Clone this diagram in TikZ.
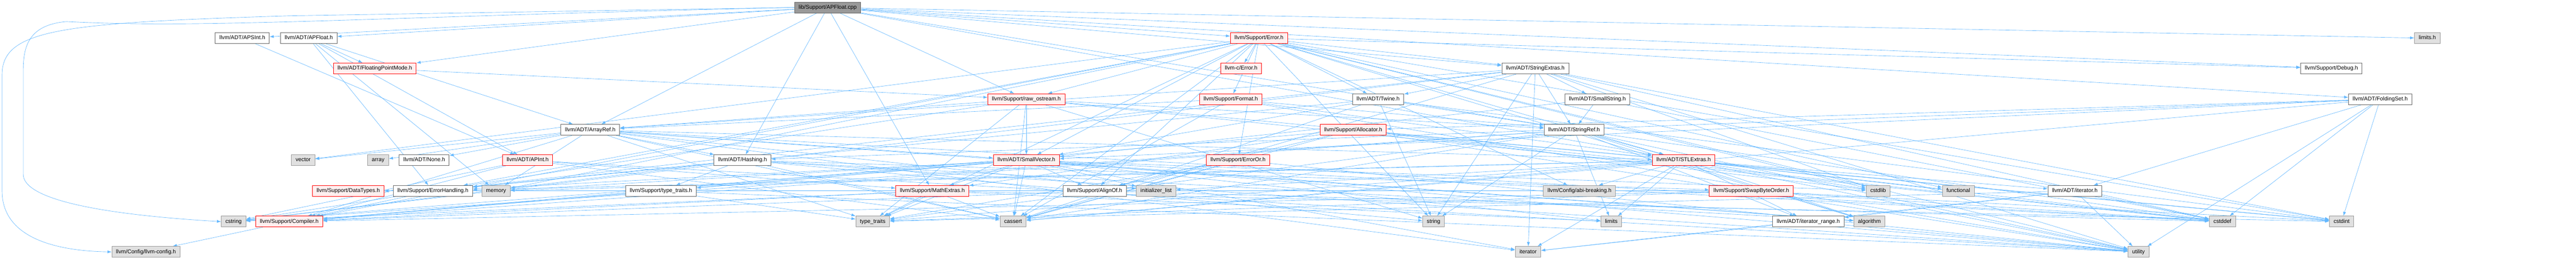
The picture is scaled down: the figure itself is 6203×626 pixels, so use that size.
\documentclass[tikz,border=0pt]{standalone}
\usepackage{fontspec}
\setmainfont{Liberation Sans}
\usetikzlibrary{arrows.meta,backgrounds}
\definecolor{edgeblue}{HTML}{63B8FF}
\definecolor{redfill}{HTML}{FFF0F0}
\definecolor{sysfill}{HTML}{E0E0E0}
\tikzset{
  file/.style={draw=black!60, fill=white, line width=1.2pt, minimum height=26pt,
    inner xsep=10pt, inner ysep=0pt, text height=9.6pt, text depth=2.8pt,
    font=\fontsize{13.3}{15}\selectfont},
  redfile/.style={file, draw=red, fill=redfill},
  sysfile/.style={file, draw=black!40, fill=sysfill},
  rootfile/.style={file, draw=black!60, fill=black!40},
  dep/.style={draw=edgeblue, line width=0.8pt, -{Latex[length=10pt,width=7pt]}},
}

\begin{document}
\begin{tikzpicture}[x=1pt,y=-1pt]
			%%%%% START %%%%%
			\useasboundingbox (0,0) rectangle (6203,626);

			\node[rootfile] (cpp) at (1993,18) {lib/Support/APFloat.cpp};

			\node[file] (apsint) at (583.5,92) {llvm/ADT/APSInt.h};
			\node[file] (apfloat) at (743.5,92) {llvm/ADT/APFloat.h};
			\node[redfile] (error) at (3031.5,92) {llvm/Support/Error.h};
			\node[sysfile] (limitsh) at (5845,92) {limits.h};

			\node[redfile] (fpmode) at (902.5,165) {llvm/ADT/FloatingPointMode.h};
			\node[redfile] (cerror) at (2988.5,165) {llvm-c/Error.h};
			\node[file] (strext) at (3697,165) {llvm/ADT/StringExtras.h};
			\node[file] (debug) at (5614,165) {llvm/Support/Debug.h};

			\node[redfile] (rawos) at (2471.5,239) {llvm/Support/raw\_ostream.h};
			\node[redfile] (format) at (2963.5,239) {llvm/Support/Format.h};
			\node[file] (twine) at (3318.5,239) {llvm/ADT/Twine.h};
			\node[file] (smallstr) at (3846.5,239) {llvm/ADT/SmallString.h};
			\node[file] (foldset) at (5731.5,239) {llvm/ADT/FoldingSet.h};

			\node[file] (arrayref) at (1421.5,313) {llvm/ADT/ArrayRef.h};
			\node[redfile] (alloc) at (3258.5,313) {llvm/Support/Allocator.h};
			\node[file] (strref) at (3790.5,313) {llvm/ADT/StringRef.h};

			\node[sysfile] (vector) at (730,386) {vector};
			\node[sysfile] (array) at (910.5,386) {array};
			\node[file] (none) at (1021.5,386) {llvm/ADT/None.h};
			\node[redfile] (apint) at (1270.5,386) {llvm/ADT/APInt.h};
			\node[file] (hashing) at (1788,386) {llvm/ADT/Hashing.h};
			\node[redfile] (smallvec) at (2471.5,386) {llvm/ADT/SmallVector.h};
			\node[redfile] (erroror) at (2981,386) {llvm/Support/ErrorOr.h};
			\node[redfile] (stlext) at (4054,386) {llvm/ADT/STLExtras.h};

			\node[redfile] (datatypes) at (838.5,460) {llvm/Support/DataTypes.h};
			\node[file] (errhand) at (1042.5,460) {llvm/Support/ErrorHandling.h};
			\node[sysfile] (memory) at (1194.5,460) {memory};
			\node[file] (typetr) at (1591.5,460) {llvm/Support/type\_traits.h};
			\node[redfile] (mathext) at (2245,460) {llvm/Support/MathExtras.h};
			\node[file] (alignof) at (2636,460) {llvm/Support/AlignOf.h};
			\node[sysfile] (initlist) at (2784,460) {initializer\_list};
			\node[sysfile] (abibrk) at (3803.5,460) {llvm/Config/abi-breaking.h};
			\node[redfile] (swapbo) at (4217,460) {llvm/Support/SwapByteOrder.h};
			\node[sysfile] (cstdlib) at (4522.5,460) {cstdlib};
			\node[sysfile] (functional) at (4715.5,460) {functional};
			\node[file] (iter) at (4996,460) {llvm/ADT/iterator.h};

			\node[sysfile] (cstring) at (562.5,534) {cstring};
			\node[redfile] (compiler) at (696.5,534) {llvm/Support/Compiler.h};
			\node[sysfile] (stdtypetr) at (2101.5,534) {type\_traits};
			\node[sysfile] (cassert) at (2439.5,534) {cassert};
			\node[sysfile] (string) at (3452,534) {string};
			\node[sysfile] (limits) at (3880,534) {limits};
			\node[file] (iterrange) at (4354.5,534) {llvm/ADT/iterator\_range.h};
			\node[sysfile] (algorithm) at (4501.5,534) {algorithm};
			\node[sysfile] (cstddef) at (5351.5,534) {cstddef};
			\node[sysfile] (cstdint) at (5638.5,534) {cstdint};

			\node[sysfile] (llvmcfg) at (351.5,607) {llvm/Config/llvm-config.h};
			\node[sysfile] (iterator) at (3679.5,607) {iterator};
			\node[sysfile] (utility) at (5149.5,607) {utility};

			\begin{scope}[on background layer]
			\fill[white] (0,0) rectangle (6203,626);

			\draw[dep] (cpp) -- (apfloat); \draw[dep] (cpp) -- (apsint); \draw[dep] (cpp) -- (arrayref); \draw[dep] (cpp) -- (fpmode);
			\draw[dep] (cpp) -- (foldset); \draw[dep] (cpp) -- (hashing); \draw[dep] (cpp) -- (stlext); \draw[dep] (cpp) -- (strext);
			\draw[dep] (cpp) -- (strref); \draw[dep] (cpp) -- (debug); \draw[dep] (cpp) -- (error); \draw[dep] (cpp) -- (mathext);
			\draw[dep] (cpp) -- (rawos); \draw[dep] (cpp) -- (limitsh);
			\draw[dep] (cpp.west) -- (700,38) .. controls (150,55) and (5,70) .. (5,180) -- (5,460) .. controls (5,580) and (150,605) .. (llvmcfg.west);
			\draw[dep] (cpp.west) .. controls (900,40) and (500,70) .. (160,52) .. controls (70,60) and (56,110) .. (56,170) -- (56,420) .. controls (56,500) and (380,525) .. (cstring.west);

			\draw[dep] (apsint) -- (apint);
			\draw[dep] (apfloat) -- (apint); \draw[dep] (apfloat) -- (arrayref); \draw[dep] (apfloat) -- (fpmode); \draw[dep] (apfloat) -- (errhand); \draw[dep] (apfloat) -- (memory);
			\draw[dep] (fpmode) -- (rawos);
			\draw[dep] (apint) -- (compiler); \draw[dep] (apint) -- (mathext); \draw[dep] (apint) -- (cassert); \draw[dep] (apint) -- (cstring); \draw[dep] (apint) -- (utility);

			\draw[dep] (arrayref) -- (hashing); \draw[dep] (arrayref) -- (none); \draw[dep] (arrayref) -- (smallvec); \draw[dep] (arrayref) -- (stlext);
			\draw[dep] (arrayref) -- (compiler); \draw[dep] (arrayref) -- (algorithm); \draw[dep] (arrayref) -- (array); \draw[dep] (arrayref) -- (cassert);
			\draw[dep] (arrayref) -- (cstddef); \draw[dep] (arrayref) -- (initlist); \draw[dep] (arrayref) -- (iterator); \draw[dep] (arrayref) -- (memory);
			\draw[dep] (arrayref) -- (stdtypetr); \draw[dep] (arrayref) -- (vector);

			\draw[dep] (hashing) -- (errhand); \draw[dep] (hashing) -- (swapbo); \draw[dep] (hashing) -- (typetr); \draw[dep] (hashing) -- (algorithm);
			\draw[dep] (hashing) -- (cassert); \draw[dep] (hashing) -- (cstring); \draw[dep] (hashing) -- (string); \draw[dep] (hashing) -- (utility);
			\draw[dep] (errhand) -- (compiler);
			\draw[dep] (typetr) -- (compiler); \draw[dep] (typetr) -- (stdtypetr); \draw[dep] (typetr) -- (utility);
			\draw[dep] (mathext) -- (compiler); \draw[dep] (mathext) -- (cassert); \draw[dep] (mathext) -- (cstdint); \draw[dep] (mathext) -- (cstring);
			\draw[dep] (mathext) -- (limits); \draw[dep] (mathext) -- (stdtypetr); \draw[dep] (mathext) -- (datatypes);

			\draw[dep] (smallvec) -- (alignof); \draw[dep] (smallvec) -- (mathext); \draw[dep] (smallvec) -- (compiler); \draw[dep] (smallvec) -- (typetr);
			\draw[dep] (smallvec) -- (errhand); \draw[dep] (smallvec) -- (algorithm); \draw[dep] (smallvec) -- (cassert); \draw[dep] (smallvec) -- (cstddef);
			\draw[dep] (smallvec) -- (cstdlib); \draw[dep] (smallvec) -- (cstring); \draw[dep] (smallvec) -- (initlist); \draw[dep] (smallvec) -- (iterator);
			\draw[dep] (smallvec) -- (limits); \draw[dep] (smallvec) -- (memory); \draw[dep] (smallvec) -- (stdtypetr); \draw[dep] (smallvec) -- (utility);
			\draw[dep] (alignof) -- (compiler); \draw[dep] (alignof) -- (cstddef);

			\draw[dep] (rawos) -- (arrayref); \draw[dep] (rawos) -- (strref); \draw[dep] (rawos) -- (smallvec); \draw[dep] (rawos) -- (cassert);
			\draw[dep] (rawos) -- (cstddef); \draw[dep] (rawos) -- (cstdint); \draw[dep] (rawos) -- (cstring); \draw[dep] (rawos) -- (string);
			\draw[dep] (rawos) -- (stdtypetr);

			\draw[dep] (error) -- (cerror); \draw[dep] (error) -- (strext); \draw[dep] (error) -- (stlext); \draw[dep] (error) -- (smallvec);
			\draw[dep] (error) -- (twine); \draw[dep] (error) -- (abibrk); \draw[dep] (error) -- (alignof); \draw[dep] (error) -- (compiler);
			\draw[dep] (error) -- (debug); \draw[dep] (error) -- (errhand); \draw[dep] (error) -- (erroror); \draw[dep] (error) -- (format);
			\draw[dep] (error) -- (rawos); \draw[dep] (error) -- (algorithm); \draw[dep] (error) -- (cassert); \draw[dep] (error) -- (cstdint);
			\draw[dep] (error) -- (cstdlib); \draw[dep] (error) -- (functional); \draw[dep] (error) -- (memory); \draw[dep] (error) -- (string);
			\draw[dep] (error) -- (stdtypetr); \draw[dep] (error) -- (utility); \draw[dep] (error) -- (vector);

			\draw[dep] (format) -- (arrayref); \draw[dep] (format) -- (stlext); \draw[dep] (format) -- (strref); \draw[dep] (format) -- (cassert); \draw[dep] (format) -- (utility);
			\draw[dep] (erroror) -- (alignof); \draw[dep] (erroror) -- (cassert); \draw[dep] (erroror) -- (stdtypetr); \draw[dep] (erroror) -- (utility);

			\draw[dep] (strext) -- (arrayref); \draw[dep] (strext) -- (smallstr); \draw[dep] (strext) -- (strref); \draw[dep] (strext) -- (twine);
			\draw[dep] (strext) -- (errhand); \draw[dep] (strext) -- (cassert); \draw[dep] (strext) -- (cstddef); \draw[dep] (strext) -- (cstdint);
			\draw[dep] (strext) -- (cstdlib); \draw[dep] (strext) -- (cstring); \draw[dep] (strext) -- (iterator); \draw[dep] (strext) -- (string);
			\draw[dep] (strext) -- (utility);
			\draw[dep] (twine) -- (smallvec); \draw[dep] (twine) -- (strref); \draw[dep] (twine) -- (errhand); \draw[dep] (twine) -- (cassert);
			\draw[dep] (twine) -- (cstdint); \draw[dep] (twine) -- (string);
			\draw[dep] (smallstr) -- (smallvec); \draw[dep] (smallstr) -- (strref); \draw[dep] (smallstr) -- (cstddef);

			\draw[dep] (strref) -- (stlext); \draw[dep] (strref) -- (iterrange); \draw[dep] (strref) -- (compiler); \draw[dep] (strref) -- (algorithm);
			\draw[dep] (strref) -- (cassert); \draw[dep] (strref) -- (cstddef); \draw[dep] (strref) -- (cstring); \draw[dep] (strref) -- (limits);
			\draw[dep] (strref) -- (string); \draw[dep] (strref) -- (stdtypetr); \draw[dep] (strref) -- (utility);

			\draw[dep] (stlext) -- (abibrk); \draw[dep] (stlext) -- (iter); \draw[dep] (stlext) -- (iterrange); \draw[dep] (stlext) -- (errhand);
			\draw[dep] (stlext) -- (algorithm); \draw[dep] (stlext) -- (cassert); \draw[dep] (stlext) -- (cstddef); \draw[dep] (stlext) -- (cstdint);
			\draw[dep] (stlext) -- (cstdlib); \draw[dep] (stlext) -- (functional); \draw[dep] (stlext) -- (initlist); \draw[dep] (stlext) -- (iterator);
			\draw[dep] (stlext) -- (limits); \draw[dep] (stlext) -- (memory); \draw[dep] (stlext) -- (stdtypetr); \draw[dep] (stlext) -- (utility);

			\draw[dep] (swapbo) -- (compiler); \draw[dep] (swapbo) -- (datatypes); \draw[dep] (swapbo) -- (cstddef); \draw[dep] (swapbo) -- (cstdint); \draw[dep] (swapbo) -- (stdtypetr);
			\draw[dep] (iter) -- (iterrange); \draw[dep] (iter) -- (cstddef); \draw[dep] (iter) -- (iterator); \draw[dep] (iter) -- (stdtypetr); \draw[dep] (iter) -- (utility);
			\draw[dep] (iterrange) -- (iterator); \draw[dep] (iterrange) -- (utility);

			\draw[dep] (foldset) -- (smallvec); \draw[dep] (foldset) -- (iter); \draw[dep] (foldset) -- (alloc); \draw[dep] (foldset) -- (hashing);
			\draw[dep] (foldset) -- (cassert); \draw[dep] (foldset) -- (cstddef); \draw[dep] (foldset) -- (cstdint); \draw[dep] (foldset) -- (utility);
			\draw[dep] (alloc) -- (alignof); \draw[dep] (alloc) -- (compiler); \draw[dep] (alloc) -- (mathext); \draw[dep] (alloc) -- (cassert);
			\draw[dep] (alloc) -- (cstddef); \draw[dep] (alloc) -- (cstdint); \draw[dep] (alloc) -- (cstdlib); \draw[dep] (alloc) -- (utility);

			\draw[dep] (compiler) -- (llvmcfg);
			\end{scope}

			%%%%% END %%%%%
\end{tikzpicture}
\end{document}
